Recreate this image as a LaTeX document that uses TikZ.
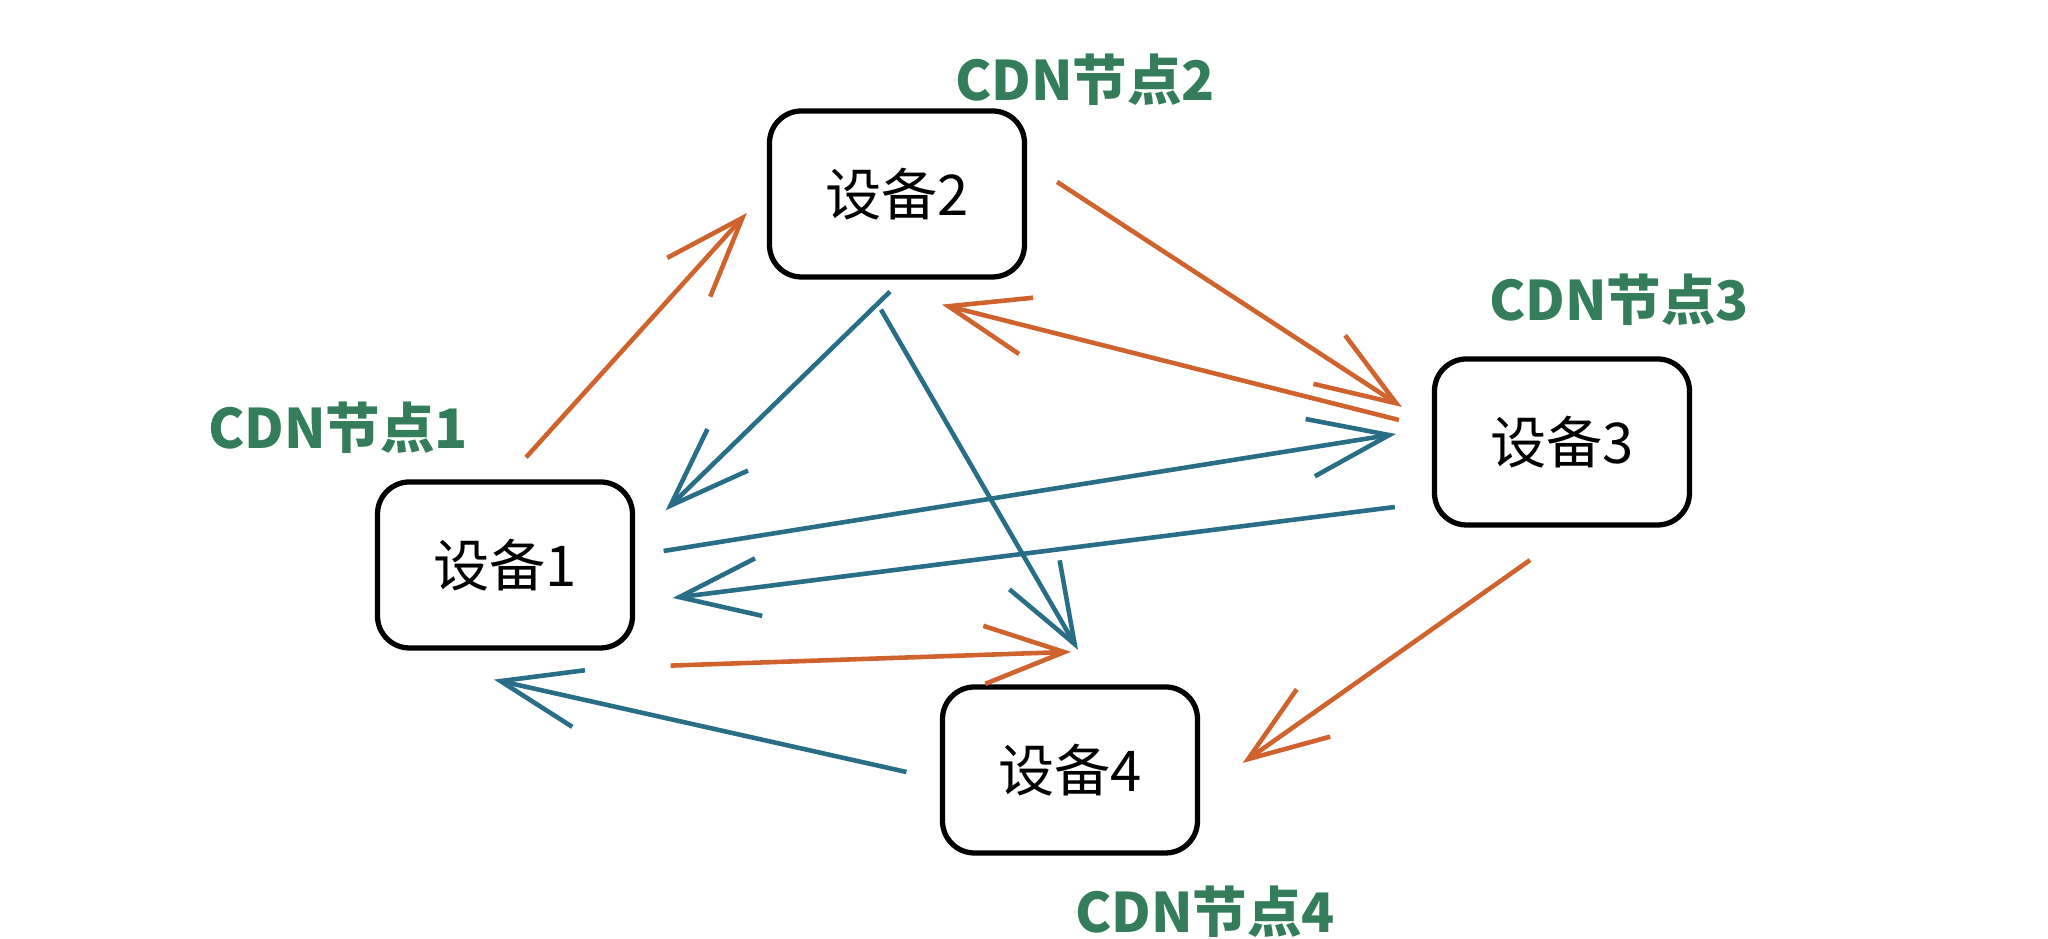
\documentclass[tikz,border=0pt]{standalone}
\usepackage{fontspec}
\newfontfamily\cjk{Noto Sans CJK SC}
\usetikzlibrary{arrows.meta}
\definecolor{cdngreen}{RGB}{51,125,90}
\definecolor{arrorange}{RGB}{208,98,45}
\definecolor{arrblue}{RGB}{40,110,135}
\tikzset{
	device/.style={draw, line width=1.5pt, rounded corners=0.32cm, minimum width=2.55cm, minimum height=1.66cm, font=\cjk\fontsize{16}{16}\selectfont},
	cdnlabel/.style={text=cdngreen, font=\cjk\bfseries\fontsize{15.5}{16}\selectfont},
	orangearr/.style={draw=arrorange, line width=1.3pt, -{Straight Barb[length=8mm,width=5.8mm]}},
	bluearr/.style={draw=arrblue, line width=1.3pt, -{Straight Barb[length=8mm,width=5.8mm]}}
}

\begin{document}
\begin{tikzpicture}
		%%%%% START %%%%%
		\useasboundingbox (0, 0) rectangle (20.48, 9.39);
		\fill[white] (0, 0) rectangle (20.48, 9.39);
		
		\node[device] (b1) at (5.05, 3.74) {设备1};
		\node[device] (b2) at (8.97, 7.45) {设备2};
		\node[device] (b3) at (15.62, 4.97) {设备3};
		\node[device] (b4) at (10.70, 1.69) {设备4};
		
		\node[cdnlabel] (cdn1) at (3.38, 5.11) {CDN节点1};
		\node[cdnlabel] (cdn2) at (10.85, 8.59) {CDN节点2};
		\node[cdnlabel] (cdn3) at (16.19, 6.39) {CDN节点3};
		\node[cdnlabel] (cdn4) at (12.05, 0.27) {CDN节点4};
		
		\draw[orangearr] ([shift={(0.21, 0.22)}]b1.north) -- ([shift={(-0.2, -0.19)}]b2.west);
		\draw[orangearr] ([shift={(0.3, 0.12)}]b2.east) -- ([shift={(-0.3, 0.35)}]b3.west);
		\draw[orangearr] ([shift={(-0.33, 0.22)}]b3.west) -- ([shift={(0.45, -0.25)}]b2.south);
		\draw[orangearr] ([shift={(0.355, -0.15)}]b1.south east) -- ([shift={(0.01, 0.325)}]b4.north);
		\draw[orangearr] ([shift={(-0.32, -0.325)}]b3.south) -- ([shift={(0.425, 0.07)}]b4.east);
		
		\draw[bluearr] ([shift={(-0.07, -0.12)}]b2.south) -- ([shift={(0.305, -0.31)}]b1.north east);
		\draw[bluearr] ([shift={(-0.16, -0.3)}]b2.south) -- ([shift={(0.08, 0.345)}]b4.north);
		\draw[bluearr] ([shift={(0.285, 0.14)}]b1.east) -- ([shift={(-0.36, 0.08)}]b3.west);
		\draw[bluearr] ([shift={(-0.37, -0.65)}]b3.west) -- ([shift={(0.375, -0.33)}]b1.east);
		\draw[bluearr] ([shift={(-0.335, -0.02)}]b4.west) -- ([shift={(-0.11, -0.29)}]b1.south);
		%%%%% END %%%%%
	\end{tikzpicture}
\end{document}
